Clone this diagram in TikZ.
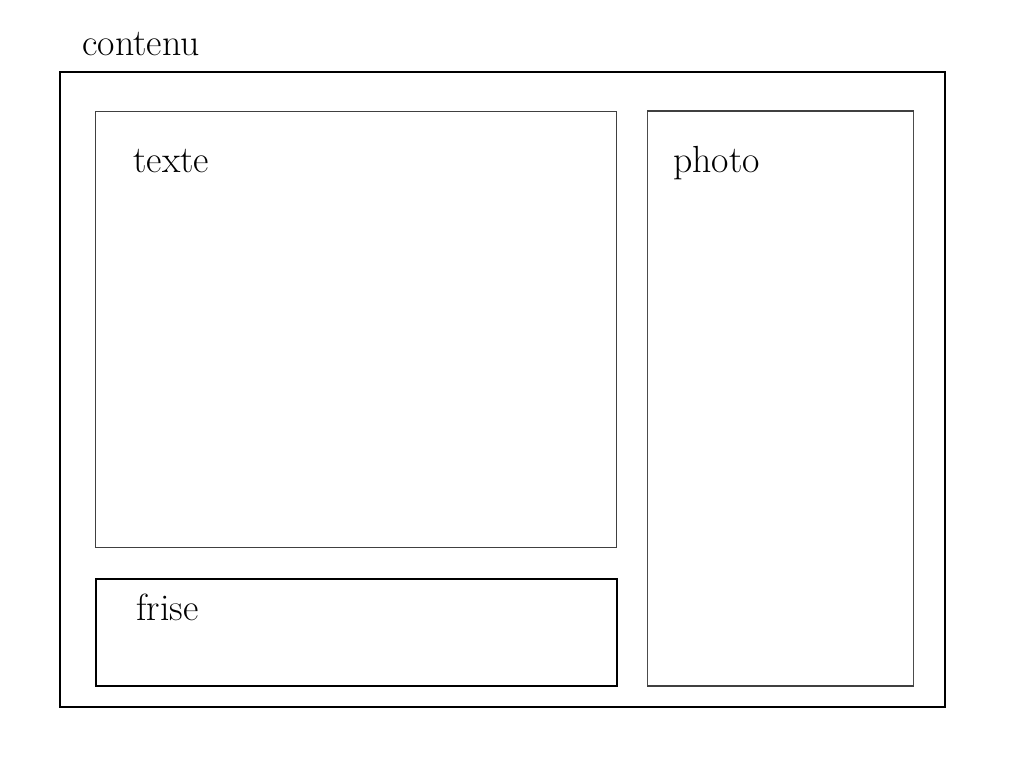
\documentclass[tikz,border=0pt]{standalone}
\usepackage{tikz}

\begin{document}
\begin{tikzpicture}[x=0.02cm, y=-0.02cm,
  box/.style={draw, rectangle, anchor=north west, inner sep=0pt},
  lbl/.style={anchor=base west, inner sep=0pt, font=\fontsize{21.5}{25}\selectfont}]
  \useasboundingbox (0,0) rectangle (1024,768);
  % outer frame
  \node[box, line width=1pt, minimum width=17.7cm, minimum height=12.7cm] (contenu) at (59,71) {};
  % inner blocks
  \node[box, line width=0.6pt, draw=black!75, minimum width=10.42cm, minimum height=8.72cm] (texte) at (95,111) {};
  \node[box, line width=1.1pt, minimum width=10.42cm, minimum height=2.14cm] (frise) at (95,578) {};
  \node[box, line width=0.6pt, draw=black!70, minimum width=5.32cm, minimum height=11.48cm] (photo) at (647,111) {};
  \draw[line width=1pt, black!75] (photo.north west) -- (photo.north east);
  \draw[line width=1pt, black!75] (photo.south west) -- (photo.south east);
  % labels
  \node[lbl] (contenuLbl) at (82,55) {contenu};
  \node[lbl] (texteLbl) at (133,172) {texte};
  \node[lbl] (photoLbl) at (673,172) {photo};
  \node[lbl] (friseLbl) at (136,620) {frise};
\end{tikzpicture}
\end{document}
